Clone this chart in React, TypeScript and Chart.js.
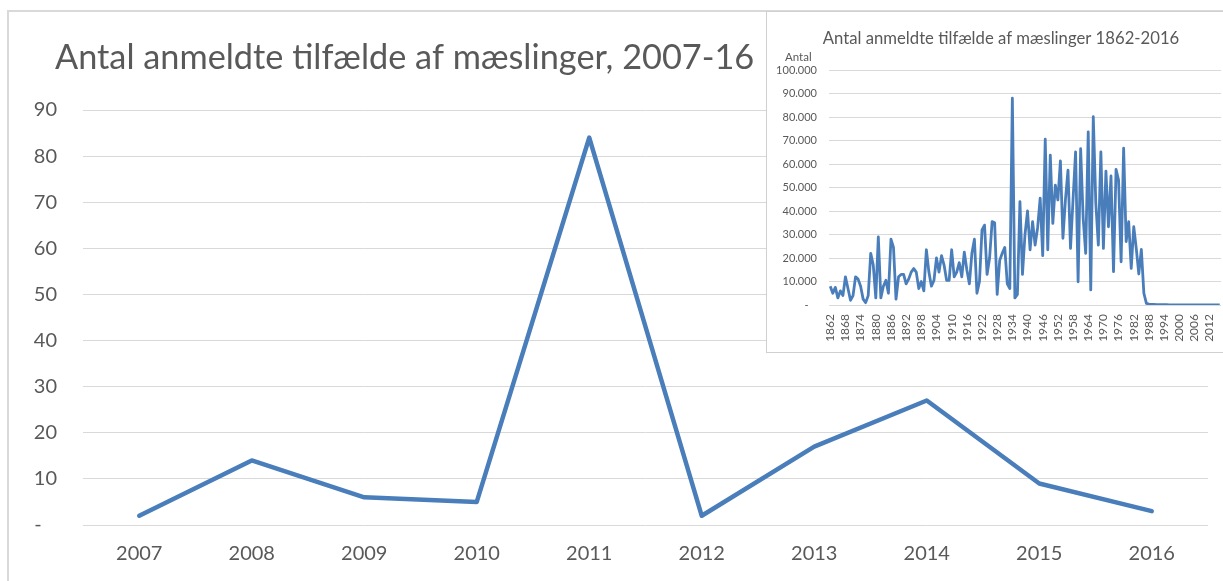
import React, { useEffect, useRef } from "react";
import { Chart, registerables } from "chart.js";

Chart.register(...registerables);

// ---- Main chart data ----
const mainYears = ["2007", "2008", "2009", "2010", "2011", "2012", "2013", "2014", "2015", "2016"];
const mainCases = [2, 14, 6, 5, 84, 2, 17, 27, 9, 3];
const mainTitle = "Antal anmeldte tilfælde af mæslinger, 2007-16";

// ---- Inset chart data (1862-2016) ----
const insetFirstYear = 1862;
const insetCases = [
  // 1862-1871
  8000, 5000, 7500, 3000, 6000, 4000, 12000, 7000, 2000, 4000,
  // 1872-1881
  12000, 11000, 8000, 2500, 1000, 4000, 22000, 17000, 3000, 29000,
  // 1882-1891
  3000, 8000, 10500, 5000, 28000, 24500, 2500, 12000, 13000, 13000,
  // 1892-1901
  9000, 11000, 14000, 15500, 14000, 7000, 10000, 6000, 23500, 14000,
  // 1902-1911
  8000, 10500, 20000, 14000, 21000, 17000, 10500, 10500, 23500, 12000,
  // 1912-1921
  14000, 18000, 12000, 22500, 15000, 9000, 22000, 28000, 5000, 10000,
  // 1922-1931
  32000, 34000, 13000, 20000, 35500, 35000, 4500, 19000, 22000, 24500,
  // 1932-1941
  9000, 7000, 88000, 3000, 4500, 44000, 13000, 30000, 40000, 23500,
  // 1942-1951
  35500, 25500, 33000, 45500, 21000, 70600, 23500, 63800, 34700, 51000,
  // 1952-1961
  44700, 61300, 28400, 45000, 57400, 24100, 45000, 65200, 9900, 66500,
  // 1962-1971
  37000, 22000, 73700, 6400, 80100, 43300, 25500, 65200, 24100, 57000,
  // 1972-1981
  33300, 54900, 14200, 57700, 53200, 18400, 66700, 27000, 35500, 15600,
  // 1982-1991
  33300, 24000, 13200, 23700, 5000, 700, 400, 300, 250, 200,
  // 1992-2001
  150, 150, 120, 100, 80, 50, 30, 20, 15, 10,
  // 2002-2011
  8, 5, 5, 5, 8, 2, 14, 6, 5, 84,
  // 2012-2016
  2, 17, 27, 9, 3,
];
const insetYears = insetCases.map((_, i) => String(insetFirstYear + i));
const insetTitle = "Antal anmeldte tilfælde af mæslinger 1862-2016";
const insetAxisTitle = "Antal";

const FONT = "Lato, 'Open Sans', 'Noto Sans', sans-serif";
const LINE = "#4a7ebb";
const TEXT = "#595959";
const GRID = "#d9d9d9";

type TextItem = { text: string; x: number; y: number; size: number; align: CanvasTextAlign };

function textPlugin(id: string, items: TextItem[]) {
  return {
    id,
    afterDraw(chart: any) {
      const ctx = chart.ctx as CanvasRenderingContext2D;
      ctx.save();
      ctx.fillStyle = TEXT;
      ctx.textBaseline = "alphabetic";
      for (const t of items) {
        ctx.font = `${t.size}px ${FONT}`;
        ctx.textAlign = t.align;
        ctx.fillText(t.text, t.x, t.y);
      }
      ctx.restore();
    },
  };
}

function formatThousands(v: number): string {
  if (v === 0) return "-   ";
  return String(v).replace(/\B(?=(\d{3})+(?!\d))/g, ".");
}

export default function App() {
  const mainRef = useRef<HTMLCanvasElement>(null);
  const insetRef = useRef<HTMLCanvasElement>(null);

  useEffect(() => {
    const main = new Chart(mainRef.current!, {
      type: "line",
      data: {
        labels: mainYears,
        datasets: [
          {
            data: mainCases,
            borderColor: LINE,
            borderWidth: 4.5,
            pointRadius: 0,
            tension: 0,
            fill: false,
            borderCapStyle: "round",
            borderJoinStyle: "round",
          },
        ],
      },
      options: {
        animation: false,
        responsive: false,
        maintainAspectRatio: false,
        layout: { padding: { left: 0, right: 15, top: 110, bottom: 0 } },
        plugins: { legend: { display: false }, tooltip: { enabled: false }, title: { display: false } },
        scales: {
          x: {
            type: "category",
            offset: true,
            grid: { display: false, drawTicks: false },
            border: { display: false },
            ticks: { color: TEXT, font: { family: FONT, size: 20 }, padding: 17, maxRotation: 0, autoSkip: false },
            afterFit(s: any) {
              s.height = 56;
            },
          },
          y: {
            min: 0,
            max: 90,
            grid: { color: GRID, lineWidth: 1, drawTicks: false },
            border: { display: false },
            ticks: {
              stepSize: 10,
              padding: 26,
              color: TEXT,
              font: { family: FONT, size: 20 },
              callback: (v: any) => (Number(v) === 0 ? "-   " : String(v)),
            },
            afterFit(s: any) {
              s.width = 83;
            },
          },
        },
      },
      plugins: [textPlugin("mainTexts", [{ text: mainTitle, x: 55, y: 69, size: 34.3, align: "left" }])],
    } as any);

    const inset = new Chart(insetRef.current!, {
      type: "line",
      data: {
        labels: insetYears,
        datasets: [
          {
            data: insetCases,
            borderColor: LINE,
            borderWidth: 2.8,
            pointRadius: 0,
            tension: 0,
            fill: false,
            borderJoinStyle: "round",
          },
        ],
      },
      options: {
        animation: false,
        responsive: false,
        maintainAspectRatio: false,
        layout: { padding: { left: 0, right: 2, top: 58, bottom: 0 } },
        plugins: { legend: { display: false }, tooltip: { enabled: false }, title: { display: false } },
        scales: {
          x: {
            type: "category",
            offset: true,
            grid: { display: false, drawTicks: false },
            border: { display: false },
            ticks: {
              color: TEXT,
              font: { family: FONT, size: 12 },
              padding: 9,
              minRotation: 90,
              maxRotation: 90,
              autoSkip: false,
              callback: (_v: any, i: number) => (i % 6 === 0 ? insetYears[i] : ""),
            },
            afterFit(s: any) {
              s.height = 47;
              s.paddingLeft = 0;
              s.paddingRight = 0;
            },
          },
          y: {
            min: 0,
            max: 100000,
            grid: { color: GRID, lineWidth: 1, drawTicks: false },
            border: { display: false },
            ticks: {
              stepSize: 10000,
              padding: 12,
              color: TEXT,
              font: { family: FONT, size: 11 },
              callback: (v: any) => formatThousands(Number(v)),
            },
            afterFit(s: any) {
              s.width = 62;
            },
          },
        },
      },
      plugins: [
        textPlugin("insetTexts", [
          { text: insetTitle, x: 234, y: 32, size: 16.7, align: "center" },
          { text: insetAxisTitle, x: 18, y: 49, size: 11.5, align: "left" },
        ]),
      ],
    } as any);

    return () => {
      main.destroy();
      inset.destroy();
    };
  }, []);

  return (
    <div style={{ position: "absolute", left: 0, top: 0, width: 1223, height: 581, overflow: "hidden", background: "#fff" }}>
      <div
        style={{
          position: "absolute",
          left: 7,
          top: 10,
          width: 1240,
          height: 600,
          border: "2px solid #d9d9d9",
          boxSizing: "border-box",
        }}
      />
      <canvas ref={mainRef} width={1223} height={581} style={{ position: "absolute", left: 0, top: 0, display: "block" }} />
      <div
        style={{
          position: "absolute",
          left: 766,
          top: 11,
          width: 470,
          height: 342,
          border: "1px solid #d0d0d0",
          background: "#fff",
          boxSizing: "border-box",
        }}
      >
        <canvas ref={insetRef} width={456} height={340} style={{ position: "absolute", left: 0, top: 0, display: "block" }} />
      </div>
    </div>
  );
}
